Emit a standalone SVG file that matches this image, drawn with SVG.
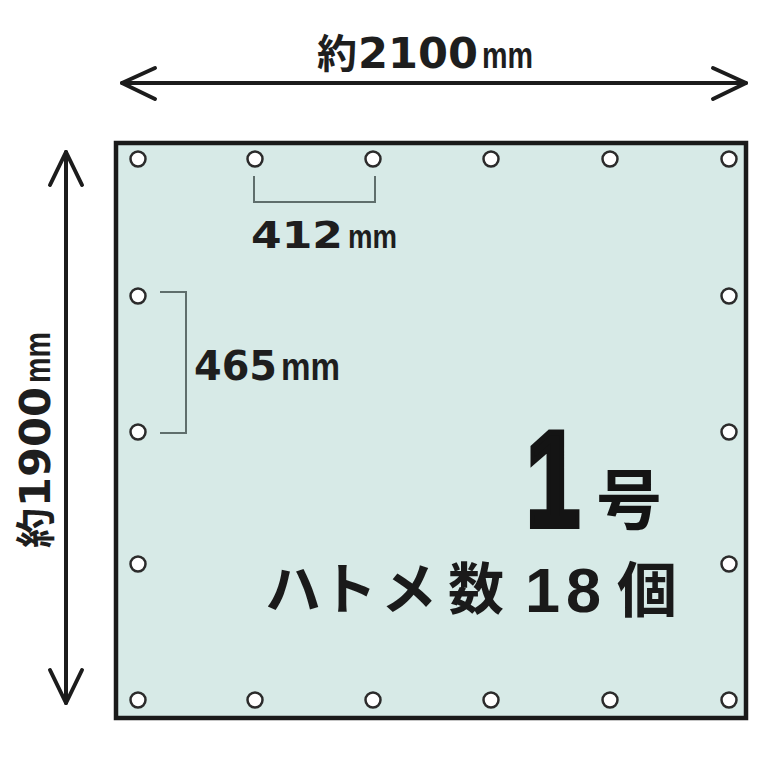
<svg xmlns="http://www.w3.org/2000/svg" width="766" height="766" viewBox="0 0 766 766">
<style>
.dim{stroke:#1c1c1c;stroke-width:4;fill:none;stroke-linecap:round;stroke-linejoin:round}
.brk{stroke:#5f6e6c;stroke-width:2;fill:none}
.g{fill:#ffffff;stroke:#2b2b2b;stroke-width:2.5}
.t{fill:#1e1e1e;font-family:"DejaVu Sans","Noto Sans CJK JP",sans-serif;font-weight:bold}
.mm{font-family:"Liberation Sans","Noto Sans CJK JP",sans-serif;font-weight:bold}
.cjk{font-family:"Noto Sans CJK JP",sans-serif;font-weight:bold}
.lat{font-family:"Liberation Sans",Arial,sans-serif;font-weight:bold}
</style>
<rect width="766" height="766" fill="#ffffff"/>
<g id="sheet">
<rect x="116" y="143" width="630" height="575" fill="#d7eae7" stroke="#1a1a1a" stroke-width="4.5"/>
</g>
<g id="grommets">
<circle class="g" cx="138" cy="159" r="7.5"/>
<circle class="g" cx="255" cy="159" r="7.5"/>
<circle class="g" cx="373" cy="159" r="7.5"/>
<circle class="g" cx="491" cy="159" r="7.5"/>
<circle class="g" cx="610" cy="159" r="7.5"/>
<circle class="g" cx="729" cy="159" r="7.5"/>
<circle class="g" cx="138" cy="700" r="7.5"/>
<circle class="g" cx="255" cy="700" r="7.5"/>
<circle class="g" cx="373" cy="700" r="7.5"/>
<circle class="g" cx="491" cy="700" r="7.5"/>
<circle class="g" cx="610" cy="700" r="7.5"/>
<circle class="g" cx="729" cy="700" r="7.5"/>
<circle class="g" cx="138" cy="296" r="7.5"/>
<circle class="g" cx="138" cy="432" r="7.5"/>
<circle class="g" cx="138" cy="564" r="7.5"/>
<circle class="g" cx="729" cy="296" r="7.5"/>
<circle class="g" cx="729" cy="432" r="7.5"/>
<circle class="g" cx="729" cy="564" r="7.5"/>
</g>
<g id="connectors">
<line class="dim" x1="122" y1="83" x2="746" y2="83"/>
<polyline class="dim" points="155,68 122,83 155,99"/>
<polyline class="dim" points="713,68 746,83 713,99"/>
<line class="dim" x1="66" y1="152" x2="66" y2="703"/>
<polyline class="dim" points="50,185 66,152 82,185"/>
<polyline class="dim" points="50,670 66,703 82,670"/>
<polyline class="brk" points="254,176 254,202 375,202 375,176"/>
<polyline class="brk" points="160,292 186,292 186,433 160,433"/>
</g>
<g id="label-width">
<text class="t" x="317" y="68" font-size="42"><tspan class="cjk" font-size="40">約</tspan><tspan x="358" textLength="120" lengthAdjust="spacingAndGlyphs">2100</tspan><tspan class="mm" x="482" font-size="36" textLength="51" lengthAdjust="spacingAndGlyphs">mm</tspan></text>
</g>
<g id="label-height">
<text class="t" transform="translate(50,433) rotate(-90)" x="-115" y="0" font-size="42"><tspan class="cjk" font-size="40">約</tspan><tspan x="-74" textLength="120" lengthAdjust="spacingAndGlyphs">1900</tspan><tspan class="mm" x="50" font-size="36" textLength="51" lengthAdjust="spacingAndGlyphs">mm</tspan></text>
</g>
<g id="label-412">
<text class="t" x="251" y="248" font-size="37"><tspan textLength="92" lengthAdjust="spacingAndGlyphs">412</tspan><tspan class="mm" x="348" font-size="34" textLength="49" lengthAdjust="spacingAndGlyphs">mm</tspan></text>
</g>
<g id="label-465">
<text class="t" x="194" y="380" font-size="40"><tspan textLength="83" lengthAdjust="spacingAndGlyphs">465</tspan><tspan class="mm" x="281" font-size="38" textLength="59" lengthAdjust="spacingAndGlyphs">mm</tspan></text>
</g>
<g id="label-size">
<text class="lat" fill="#141414" x="526" y="526" font-size="136"><tspan stroke="#141414" stroke-width="6" stroke-linejoin="miter" textLength="54" lengthAdjust="spacingAndGlyphs">1</tspan><tspan class="cjk" x="596" y="524" font-size="66">号</tspan></text>
</g>
<g id="label-count">
<text class="cjk" fill="#1a1a1a" y="609" font-size="56"><tspan x="265">ハ</tspan><tspan x="321">ト</tspan><tspan x="381">メ</tspan><tspan x="448">数</tspan><tspan class="lat" x="525" y="612" font-size="63">1</tspan><tspan class="lat" x="566" y="612" font-size="63">8</tspan><tspan x="617" font-size="60">個</tspan></text>
</g>
</svg>
